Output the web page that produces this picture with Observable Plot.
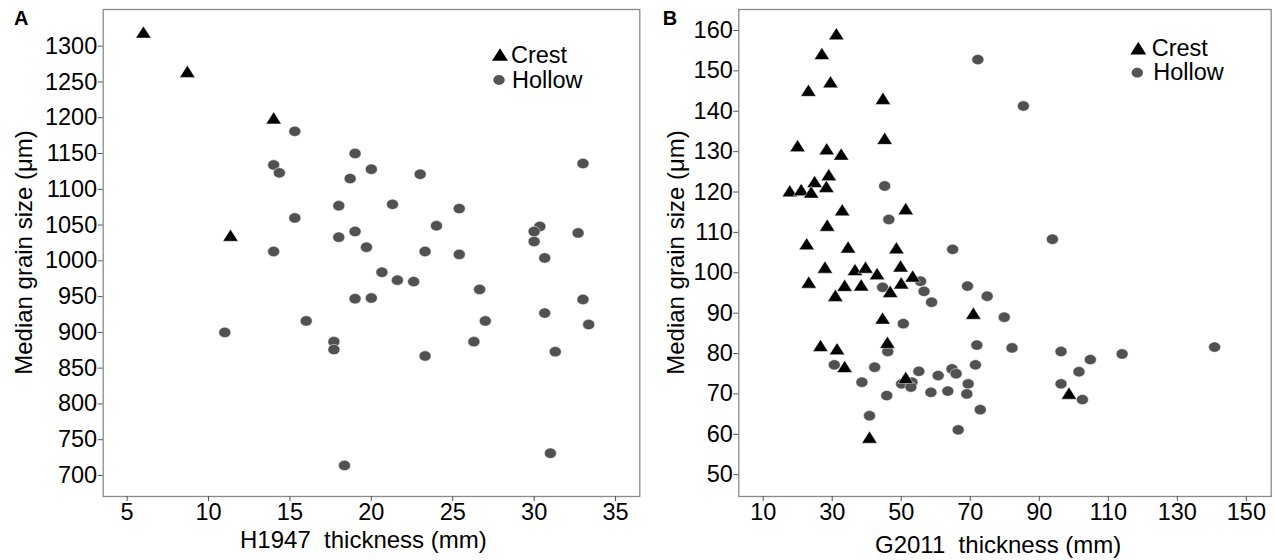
<!DOCTYPE html>
<html><head><meta charset="utf-8">
<script src="https://cdn.jsdelivr.net/npm/d3@7"></script>
<script src="https://cdn.jsdelivr.net/npm/@observablehq/plot@0.6"></script>
<style>
body{margin:0;background:#fff;}
#wrap{position:relative;width:1275px;height:560px;overflow:hidden;background:#fff;}
#wrap svg{position:absolute;top:0;overflow:visible;}
</style></head><body><div id="wrap"></div>
<script>
// ---------- Panel A (H1947) ----------
const crestA_x = [6.0, 8.7, 14.0, 11.35];
const crestA_y = [1317, 1262, 1197, 1033];
const hollowA_x = [15.3, 14.0, 14.35, 19.0, 20.0, 18.7, 18.0, 21.3, 15.3, 18.0, 19.0, 19.7, 14.0, 20.65, 21.6, 22.6,
  33.0, 23.0, 25.4, 24.0, 30.35, 30.0, 32.7, 30.0, 23.3, 25.4, 30.65, 26.65, 33.0, 30.65, 27.0, 33.35, 26.3, 23.3, 31.3, 31.0,
  19.0, 20.0, 16.0, 11.0, 17.7, 17.7, 18.35];
const hollowA_y = [1181, 1134, 1123, 1150, 1128, 1115, 1077, 1079, 1060, 1033, 1041, 1019, 1013, 984, 973, 971,
  1136, 1121, 1073, 1049, 1048, 1041, 1039, 1027, 1013, 1009, 1004, 960, 946, 927, 916, 911, 887, 867, 873, 731,
  947, 948, 916, 900, 887, 876, 714];
const ticksA_x = [5, 10, 15, 20, 25, 30, 35];
const ticksA_y = [700, 750, 800, 850, 900, 950, 1000, 1050, 1100, 1150, 1200, 1250, 1300];

// ---------- Panel B (G2011) ----------
const crestB_x = [31.2, 27.0, 29.5, 23.1, 44.7, 45.2, 19.95, 28.4, 32.6, 29.0, 24.9, 28.3, 17.7, 21.0, 23.9, 32.9, 51.3, 28.55,
  22.6, 34.6, 48.6, 27.9, 36.6, 39.65, 43.0, 49.8, 53.3, 23.2, 33.6, 38.4, 30.9, 46.8, 50.0, 44.6, 70.9, 46.0, 26.6, 31.4, 33.6, 51.3, 98.6, 40.8];
const crestB_y = [158.7, 153.8, 146.8, 144.7, 142.7, 132.8, 131.0, 130.2, 128.9, 123.8, 122.1, 120.9, 119.8, 120.1, 119.5, 115.1, 115.4, 111.3,
  106.7, 105.9, 105.7, 100.9, 100.3, 100.9, 99.3, 101.2, 98.7, 97.2, 96.4, 96.5, 93.9, 94.9, 97.0, 88.3, 89.5, 82.3, 81.5, 80.7, 76.3, 73.6, 69.7, 58.8];
const hollowB_x = [72.2, 85.4, 45.2, 46.4, 93.8, 64.9, 44.6, 55.6, 56.6, 58.8, 69.2, 74.9, 79.85, 50.6, 71.9, 82.1, 46.1, 96.3, 114.0, 140.8,
  104.8, 30.6, 42.3, 71.5, 101.5, 55.1, 64.7, 65.9, 60.7, 38.6, 50.1, 53.1, 52.8, 69.4, 96.3, 58.6, 63.5, 69.0, 45.8, 102.5, 72.9, 40.8, 66.5];
const hollowB_y = [152.8, 141.3, 121.5, 113.2, 108.3, 105.8, 96.4, 97.9, 95.4, 92.7, 96.7, 94.2, 89.0, 87.4, 82.1, 81.4, 80.5, 80.5, 79.9, 81.6,
  78.5, 77.2, 76.6, 77.2, 75.5, 75.6, 76.2, 75.0, 74.55, 72.9, 72.5, 72.9, 71.7, 72.5, 72.5, 70.4, 70.7, 70.0, 69.6, 68.6, 66.1, 64.6, 61.1];
const ticksB_x = [10, 30, 50, 70, 90, 110, 130, 150];
const ticksB_y = [50, 60, 70, 80, 90, 100, 110, 120, 130, 140, 150, 160];

const seriesNames = ["Crest", "Hollow"];
const yTitle = "Median grain size (\u03bcm)";
const xTitleA = "H1947  thickness (mm)";
const xTitleB = "G2011  thickness (mm)";

const toRows = (xs, ys) => xs.map((x, i) => ({x, y: ys[i]}));

// custom symbols: flattened ellipse and triangle like the original
const ellipseSymbol = {draw(ctx, size) {
  const s = Math.sqrt(size / Math.PI), rx = 1.09 * s, ry = 0.94 * s, k = 0.5523;
  ctx.moveTo(rx, 0);
  ctx.bezierCurveTo(rx, ry * k, rx * k, ry, 0, ry);
  ctx.bezierCurveTo(-rx * k, ry, -rx, ry * k, -rx, 0);
  ctx.bezierCurveTo(-rx, -ry * k, -rx * k, -ry, 0, -ry);
  ctx.bezierCurveTo(rx * k, -ry, rx, -ry * k, rx, 0);
  ctx.closePath();
}};
const triSymbol = {draw(ctx, size) {
  const s = Math.sqrt(size / Math.PI), w = 2.8 * s, h = 2.2 * s;
  ctx.moveTo(0, -2 * h / 3);
  ctx.lineTo(w / 2, h / 3);
  ctx.lineTo(-w / 2, h / 3);
  ctx.closePath();
}};
const R = 5.5;
const FONT = "'Liberation Sans', Arial, Helvetica, sans-serif";

function addText(g, x, y, size, txt, opts = {}) {
  const t = g.append("text").attr("x", x).attr("y", y).attr("font-size", size).attr("font-family", FONT)
    .attr("fill", "#000").attr("text-anchor", opts.anchor || "start").style("white-space", "pre").text(txt);
  if (opts.bold) t.attr("font-weight", "bold");
  if (opts.transform) t.attr("transform", opts.transform);
  return t;
}

function panel(o) {
  const svg = Plot.plot({
    width: o.w, height: 560,
    marginLeft: o.ml, marginRight: o.mr, marginTop: 9, marginBottom: 64,
    x: {domain: o.xd}, y: {domain: o.yd},
    style: {fontFamily: FONT, fontSize: "23.5px", color: "#000", background: "transparent"},
    marks: [
      Plot.frame({stroke: "#8a8a8a", strokeWidth: 1.3}),
      Plot.axisX({ticks: o.xt, tickSize: 5, tickPadding: 2.3, label: null, stroke: "#555", tickFormat: d => String(d)}),
      Plot.axisY({ticks: o.yt, tickSize: 5, tickPadding: 1, label: null, stroke: "#555", tickFormat: d => String(d)}),
      Plot.dot(o.hollow, {x: "x", y: "y", r: R, symbol: ellipseSymbol, fill: "#515151", stroke: "#fff", strokeWidth: 0.5}),
      Plot.dot(o.crest, {x: "x", y: "y", r: R, symbol: triSymbol, fill: "#000", stroke: "#fff", strokeWidth: 0.5})
    ]
  });
  svg.style.left = o.left + "px";
  const g = d3.select(svg);
  addText(g, o.letter[0], o.letter[1], 20, o.letterText, {bold: true});
  addText(g, 0, 0, 24, yTitle, {anchor: "middle", transform: `translate(${o.yt_x},252.5) rotate(-90)`});
  addText(g, o.xt_pos[0], o.xt_pos[1], 24, o.xTitle);
  // legend
  const L = o.legend;
  g.append("path").attr("transform", `translate(${L.tri[0]},${L.tri[1]})`)
    .attr("d", d3.symbol(triSymbol, Math.PI * 5.7 * 5.7)()).attr("fill", "#000");
  g.append("path").attr("transform", `translate(${L.circ[0]},${L.circ[1]})`)
    .attr("d", d3.symbol(ellipseSymbol, Math.PI * 5.2 * 5.2)()).attr("fill", "#555");
  addText(g, L.t1[0], L.t1[1], 23.5, seriesNames[0]);
  addText(g, L.t2[0], L.t2[1], 23.5, seriesNames[1]);
  return svg;
}

const wrap = document.getElementById("wrap");
wrap.appendChild(panel({
  left: 0, w: 645, ml: 102.7, mr: 5.7,
  xd: [3.53, 36.49], yd: [670.6, 1351.3], xt: ticksA_x, yt: ticksA_y,
  hollow: toRows(hollowA_x, hollowA_y), crest: toRows(crestA_x, crestA_y),
  letter: [14, 25], letterText: "A", yt_x: 32.3, xt_pos: [240, 548.3], xTitle: xTitleA,
  legend: {tri: [500, 56.5], circ: [499, 80], t1: [511, 63.3], t2: [512, 88.3]}
}));
wrap.appendChild(panel({
  left: 650, w: 625, ml: 88.3, mr: 4.3,
  xd: [2.93, 157.2], yd: [44.6, 165.2], xt: ticksB_x, yt: ticksB_y,
  hollow: toRows(hollowB_x, hollowB_y), crest: toRows(crestB_x, crestB_y),
  letter: [12.7, 24.5], letterText: "B", yt_x: 34.3, xt_pos: [225, 553.3], xTitle: xTitleB,
  legend: {tri: [488.3, 50.2], circ: [487.3, 72.7], t1: [501.7, 56], t2: [503.3, 80]}
}));
</script>
</body></html>
